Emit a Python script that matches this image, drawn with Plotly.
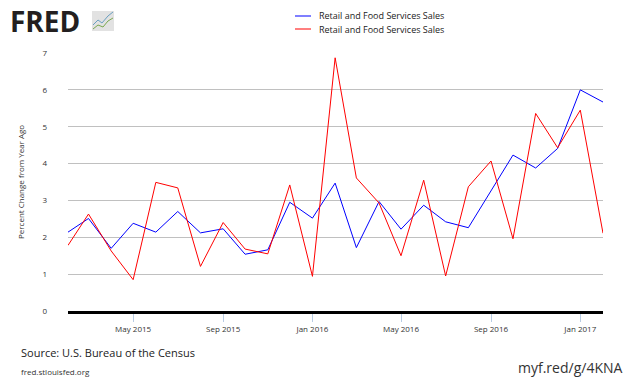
import pandas as pd
import plotly.graph_objects as go

dates = pd.date_range("2015-02-01", periods=25, freq="MS")
blue_vals = [2.14, 2.51, 1.70, 2.38, 2.14, 2.70, 2.12, 2.23, 1.54, 1.66, 2.95, 2.52,
             3.47, 1.72, 2.97, 2.22, 2.87, 2.42, 2.26, 3.25, 4.23, 3.88, 4.41, 6.00, 5.67]
red_vals = [1.78, 2.63, 1.63, 0.85, 3.49, 3.34, 1.21, 2.40, 1.68, 1.55, 3.42, 0.94,
            6.87, 3.61, 2.93, 1.50, 3.55, 0.95, 3.37, 4.07, 1.96, 5.36, 4.43, 5.45, 2.11]
series_name = "Retail and Food Services Sales"
tick_dates = ["2015-05-01", "2015-09-01", "2016-01-01", "2016-05-01", "2016-09-01", "2017-01-01"]
tick_labels = ["May 2015", "Sep 2015", "Jan 2016", "May 2016", "Sep 2016", "Jan 2017"]
y_ticks = [0, 1, 2, 3, 4, 5, 6, 7]

W, H = 630, 378
L, R, T, B = 68, 27, 53, 67
PW, PH = W - L - R, H - T - B

def px(x):
    return (x - L) / PW

def py(y):
    return (H - B - y) / PH

fig = go.Figure()
fig.add_trace(go.Scatter(x=dates, y=blue_vals, mode="lines", name=series_name,
                         line=dict(color="#0000ff", width=1), showlegend=False))
fig.add_trace(go.Scatter(x=dates, y=red_vals, mode="lines", name=series_name,
                         line=dict(color="#ff0000", width=1), showlegend=False))

shapes = []
annotations = []
# legend
for i, col in enumerate(["#7f7fff", "#ff7f7f"]):
    yy = 16 + 13 * i
    shapes.append(dict(type="line", xref="paper", yref="paper", x0=px(295), x1=px(311),
                       y0=py(yy), y1=py(yy), line=dict(color=col, width=2)))
    annotations.append(dict(text=series_name, xref="paper", yref="paper", x=px(317), y=py(yy),
                            xanchor="left", yanchor="middle", showarrow=False,
                            font=dict(family="Open Sans", size=9, color="#222222")))
# FRED logo
annotations.append(dict(text="<b>FRED</b>", xref="paper", yref="paper", x=px(8), y=py(21),
                        xanchor="left", yanchor="middle", showarrow=False,
                        font=dict(family="Open Sans", size=28, color="#231f20")))
shapes.append(dict(type="rect", xref="paper", yref="paper", x0=px(92), x1=px(114),
                   y0=py(31), y1=py(11), fillcolor="#e2e2e2", line=dict(width=0)))
shapes.append(dict(type="path", xref="paper", yref="paper",
                   path="M %f,%f L %f,%f L %f,%f L %f,%f L %f,%f" % (
                       px(93), py(25), px(98), py(20), px(102), py(23), px(108), py(16), px(113), py(12)),
                   line=dict(color="#6a9fc0", width=1)))
shapes.append(dict(type="path", xref="paper", yref="paper",
                   path="M %f,%f L %f,%f L %f,%f L %f,%f L %f,%f" % (
                       px(93), py(29), px(98), py(25), px(103), py(27), px(108), py(21), px(113), py(18)),
                   line=dict(color="#7aa850", width=1)))
# y title
annotations.append(dict(text="Percent Change from Year Ago", xref="paper", yref="paper",
                        x=px(20), y=py(182), textangle=-90, xanchor="center", yanchor="middle",
                        showarrow=False, font=dict(family="Open Sans", size=8, color="#333333")))
# footer
annotations.append(dict(text="Source: U.S. Bureau of the Census", xref="paper", yref="paper",
                        x=px(19), y=py(352), xanchor="left", yanchor="middle", showarrow=False,
                        font=dict(family="Open Sans", size=11, color="#222222")))
annotations.append(dict(text="fred.stlouisfed.org", xref="paper", yref="paper",
                        x=px(19), y=py(371), xanchor="left", yanchor="middle", showarrow=False,
                        font=dict(family="Open Sans", size=8, color="#333333")))
annotations.append(dict(text="myf.red/g/4KNA", xref="paper", yref="paper",
                        x=px(624), y=py(367), xanchor="right", yanchor="middle", showarrow=False,
                        font=dict(family="Open Sans", size=14, color="#333333")))

fig.update_layout(
    width=W, height=H,
    margin=dict(l=L, r=R, t=T, b=B),
    paper_bgcolor="white", plot_bgcolor="white",
    shapes=shapes, annotations=annotations,
    xaxis=dict(range=[dates[0], dates[-1]], tickvals=tick_dates, ticktext=tick_labels,
               showgrid=False, zeroline=False, showline=True, linecolor="black", linewidth=3,
               ticks="outside", ticklen=8, tickcolor="#b8cce4", tickwidth=1,
               tickfont=dict(family="Open Sans", size=8, color="#333333")),
    yaxis=dict(range=[0, 7], tickvals=y_ticks, showgrid=True, gridcolor="#c0c0c0", gridwidth=1,
               zeroline=False, showline=False, ticks="", ticklabelstandoff=20,
               tickfont=dict(family="Open Sans", size=8, color="#333333")),
)

fig.write_html("out.html", config={"displayModeBar": False},
               post_script="document.body.style.margin='0';document.body.style.overflow='hidden';")
